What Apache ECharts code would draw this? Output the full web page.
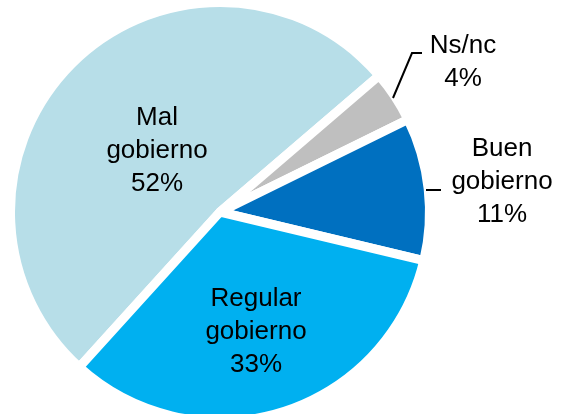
<!DOCTYPE html>
<html>
<head>
<meta charset="utf-8">
<script src="https://cdn.jsdelivr.net/npm/echarts@6/dist/echarts.min.js"></script>
<style>
html,body{margin:0;padding:0;background:#fff;}
#chart{width:566px;height:414px;}
</style>
</head>
<body>
<div id="chart"></div>
<script>
// Data
var categories = ['Mal\ngobierno', 'Ns/nc', 'Buen\ngobierno', 'Regular\ngobierno'];
var values = [52, 4, 11, 33];
var colors = ['#B7DEE8', '#BFBFBF', '#0070C0', '#00B0F0'];

// Label layout (positions of label text and leader lines)
var labelSpots = [
  {x: 157, y: 151, line: null},
  {x: 463, y: 62, line: [[393, 98], [412, 53], [422, 53]]},
  {x: 502, y: 182, line: [[426, 190], [441, 190]]},
  {x: 256, y: 332, line: null}
];

var chart = echarts.init(document.getElementById('chart'), null, {renderer: 'canvas'});

var data = categories.map(function (c, i) {
  return {
    name: c,
    value: values[i],
    itemStyle: {color: colors[i]}
  };
});

var leaderGraphics = labelSpots.filter(function (s) { return s.line; }).map(function (s) {
  return {
    type: 'polyline',
    silent: true,
    z: 10,
    shape: {points: s.line},
    style: {stroke: '#000000', lineWidth: 2, fill: null}
  };
});

chart.setOption({
  animation: false,
  graphic: leaderGraphics,
  series: [{
    type: 'pie',
    center: [220, 212],
    radius: 209.5,
    startAngle: 227.8,
    clockwise: true,
    avoidLabelOverlap: false,
    itemStyle: {borderColor: '#ffffff', borderWidth: 9, borderJoin: 'round'},
    label: {
      show: true,
      position: 'outside',
      formatter: '{b}\n{c}%',
      fontFamily: 'Liberation Sans',
      fontSize: 26,
      lineHeight: 33,
      color: '#000000',
      align: 'center'
    },
    labelLine: {show: false},
    labelLayout: function (p) {
      var s = labelSpots[p.dataIndex];
      return {x: s.x, y: s.y, align: 'center', verticalAlign: 'middle'};
    },
    data: data
  }]
});
</script>
</body>
</html>
